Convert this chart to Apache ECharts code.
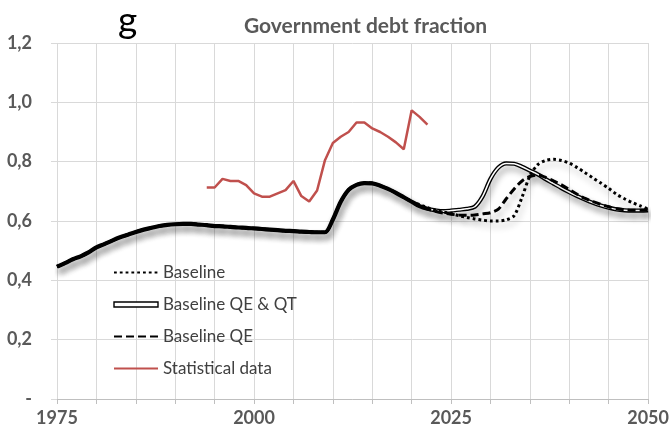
<!DOCTYPE html>
<html><head><meta charset="utf-8">
<script src="https://cdn.jsdelivr.net/npm/echarts@6/dist/echarts.min.js"></script>
<style>html,body{margin:0;padding:0;background:#fff}#c{width:672px;height:439px}</style>
</head><body><div id="c"></div>
<script>
// Shared model history (all three scenarios coincide), 1975-2020
const histYears = [1975,1976,1977,1978,1979,1980,1981,1982,1983,1984,1985,1986,1987,1988,1989,1990,1991,1992,1993,1994,1995,1996,1997,1998,1999,2000,2001,2002,2003,2004,2005,2006,2007,2008,2009,2010,2011,2012,2013,2014,2015,2016,2017,2018,2019,2020];
const histValues = [0.446,0.458,0.471,0.481,0.494,0.511,0.522,0.534,0.545,0.554,0.563,0.571,0.577,0.583,0.587,0.589,0.590,0.590,0.588,0.586,0.583,0.582,0.580,0.578,0.577,0.575,0.573,0.571,0.569,0.567,0.566,0.564,0.563,0.562,0.562,0.605,0.665,0.705,0.722,0.728,0.727,0.719,0.708,0.695,0.680,0.665];
// Scenario projections, 2021-2050
const projYears = [2021,2022,2023,2024,2025,2026,2027,2028,2029,2030,2031,2032,2033,2034,2035,2036,2037,2038,2039,2040,2041,2042,2043,2044,2045,2046,2047,2048,2049,2050];
const baselineProj = [0.655,0.645,0.636,0.630,0.625,0.618,0.612,0.607,0.603,0.600,0.600,0.604,0.618,0.680,0.752,0.790,0.804,0.808,0.804,0.795,0.780,0.763,0.745,0.728,0.710,0.690,0.675,0.662,0.651,0.640];
const qeqtProj = [0.650,0.641,0.636,0.633,0.635,0.638,0.641,0.648,0.683,0.742,0.780,0.794,0.793,0.783,0.770,0.757,0.741,0.726,0.711,0.697,0.684,0.672,0.661,0.652,0.645,0.639,0.636,0.635,0.635,0.636];
const qeProj = [0.650,0.641,0.633,0.627,0.623,0.620,0.619,0.620,0.624,0.628,0.640,0.675,0.708,0.735,0.750,0.755,0.747,0.735,0.722,0.706,0.690,0.676,0.665,0.656,0.648,0.641,0.638,0.636,0.636,0.637];
// Statistical data
const statYears = [1994,1995,1996,1997,1998,1999,2000,2001,2002,2003,2004,2005,2006,2007,2008,2009,2010,2011,2012,2013,2014,2015,2016,2017,2018,2019,2020,2021,2022];
const statValues = [0.713,0.713,0.742,0.735,0.735,0.721,0.693,0.682,0.682,0.693,0.704,0.735,0.684,0.666,0.703,0.805,0.863,0.884,0.900,0.932,0.932,0.912,0.900,0.884,0.865,0.842,0.973,0.951,0.925];
const seriesNames = ['Baseline','Baseline QE & QT','Baseline QE','Statistical data'];
const xTickLabels = [1975,2000,2025,2050];

function pairs(xs, ys){ return xs.map((x,i)=>[x, ys[i]]); }
const hist = pairs(histYears, histValues);
const baseData = hist.concat(pairs(projYears, baselineProj));
const qeqtData = hist.concat(pairs(projYears, qeqtProj));
const qeData = hist.concat(pairs(projYears, qeProj));
const qeqtCore = pairs(projYears, qeqtProj).slice(1);
const statData = pairs(statYears, statValues);

const FONT = 'Lato';
const shadow = {shadowColor:'rgba(0,0,0,0.32)', shadowBlur:6, shadowOffsetX:2, shadowOffsetY:5};

const chart = echarts.init(document.getElementById('c'), null, {renderer:'canvas'});
chart.setOption({
  animation:false,
  backgroundColor:'#ffffff',
  title:[
    {text:'g', left:113, top:-2, textStyle:{fontFamily:FONT, fontSize:37, fontWeight:'normal', color:'#000'}},
    {text:'Government debt fraction', left:239, top:11, textStyle:{fontFamily:FONT, fontSize:21, fontWeight:'bold', color:'#595959'}}
  ],
  grid:{left:57, right:15, top:43, bottom:40, containLabel:false},
  legend:{
    orient:'vertical', left:108, top:259, itemWidth:44, itemHeight:5, itemGap:15,
    textStyle:{fontFamily:FONT, fontSize:17, color:'#404040'},
    itemStyle:{opacity:0},
    lineStyle:{shadowBlur:0, shadowColor:'transparent', shadowOffsetX:0, shadowOffsetY:0},
    selectedMode:false,
    data:[
      {name:seriesNames[0]},
      {name:seriesNames[1], icon:'rect', itemStyle:{color:'#fff', borderColor:'#000', borderWidth:1.4, opacity:1}},
      {name:seriesNames[2]},
      {name:seriesNames[3]}
    ]
  },
  xAxis:{
    type:'value', min:1975, max:2050, interval:5,
    axisLine:{show:true, lineStyle:{color:'#bfbfbf', width:1}},
    axisTick:{show:true, length:5, lineStyle:{color:'#bfbfbf'}},
    axisLabel:{margin:10, fontFamily:FONT, fontSize:18, fontWeight:'bold', color:'#595959',
      formatter:v=> xTickLabels.indexOf(v)>=0 ? String(v) : ''},
    splitLine:{show:true, lineStyle:{color:'#d9d9d9', width:1}}
  },
  yAxis:{
    type:'value', min:0, max:1.2, interval:0.2,
    axisLine:{show:false},
    axisTick:{show:true, length:6, inside:false, lineStyle:{color:'#d9d9d9'}},
    axisLabel:{margin:25, fontFamily:FONT, fontSize:18, fontWeight:'bold', color:'#595959',
      formatter:v=> Math.abs(v)<1e-9 ? '-' : v.toFixed(1).replace('.', ',')},
    splitLine:{show:true, lineStyle:{color:'#d9d9d9', width:1}}
  },
  series:[
    {name:seriesNames[1], type:'line', data:qeqtData, symbol:'none', smooth:0.3, z:2,
      lineStyle:Object.assign({color:'#000', width:4.2}, shadow), itemStyle:{color:'#000'}},
    {name:'qeqt-core', type:'line', data:qeqtCore, symbol:'none', smooth:0.3, z:3,
      lineStyle:{color:'#fff', width:1.5}, itemStyle:{color:'#fff'}},
    {name:seriesNames[2], type:'line', data:qeData, symbol:'none', smooth:0.3, z:4,
      lineStyle:Object.assign({color:'#000', width:3, type:[8,4]}, shadow), itemStyle:{color:'#000'}},
    {name:seriesNames[0], type:'line', data:baseData, symbol:'none', smooth:0.3, z:5,
      lineStyle:Object.assign({color:'#000', width:3, type:[2.8,3]}, shadow), itemStyle:{color:'#000'}},
    {name:seriesNames[3], type:'line', data:statData, symbol:'none', z:6,
      lineStyle:{color:'#c0504d', width:2.5}, itemStyle:{color:'#c0504d'}}
  ]
});
</script>
</body></html>
